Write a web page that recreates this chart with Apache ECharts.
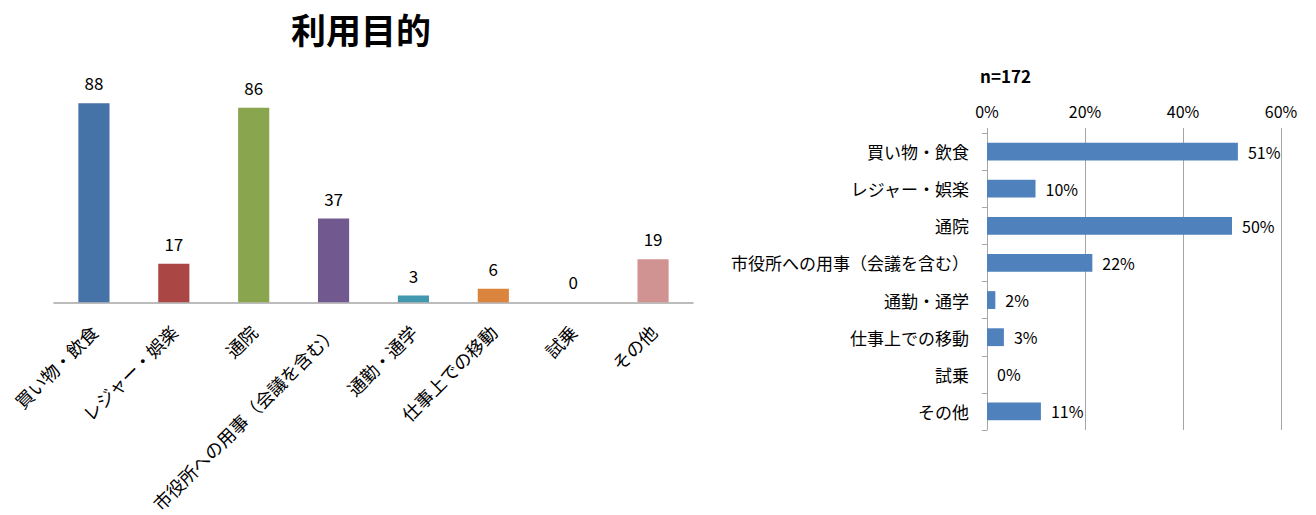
<!DOCTYPE html>
<html>
<head>
<meta charset="utf-8">
<script src="https://cdn.jsdelivr.net/npm/echarts@6/dist/echarts.min.js"></script>
<style>
  html, body { margin: 0; padding: 0; background: #fff; }
  #main { width: 1316px; height: 515px; }
</style>
</head>
<body>
<div id="main"></div>
<script>
// data
var categories = ['買い物・飲食', 'レジャー・娯楽', '通院', '市役所への用事（会議を含む）', '通勤・通学', '仕事上での移動', '試乗', 'その他'];
var counts = [88, 17, 86, 37, 3, 6, 0, 19];
var shares = [51.2, 9.9, 50.0, 21.5, 1.7, 3.45, 0, 11.0];
var barColors = ['#4572A7', '#AA4643', '#89A54E', '#71588F', '#4198AF', '#DB843D', '#93A9CF', '#D19392'];
var pctTicks = [0, 20, 40, 60];
var sampleSize = 'n=172';

var font = '"Noto Sans CJK JP", "Noto Sans", sans-serif';

var chart = echarts.init(document.getElementById('main'), null, {renderer: 'svg'});
chart.setOption({
  animation: false,
  textStyle: { fontFamily: font },
  title: [
    { text: '利用目的', left: 356, top: 6, textAlign: 'center',
      textStyle: { fontSize: 35, fontWeight: 'bold', color: '#000', fontFamily: font } },
    { text: sampleSize, left: 975, top: 62,
      textStyle: { fontSize: 17, fontWeight: 'bold', color: '#000', fontFamily: font } }
  ],
  grid: [
    { left: 54, width: 639, top: 76, height: 229 },
    { left: 987, width: 294, top: 133, height: 297 }
  ],
  xAxis: [
    { type: 'category', gridIndex: 0, data: categories,
      axisLine: { lineStyle: { color: '#a6a6a6', width: 1.5 } },
      axisTick: { show: false },
      axisLabel: { rotate: 45, margin: 26, fontSize: 18, color: '#000', interval: 0, fontFamily: font } },
    { type: 'value', gridIndex: 1, position: 'top', min: 0, max: 60, interval: 20,
      axisLine: { show: false },
      axisTick: { show: true, length: 5, lineStyle: { color: '#a6a6a6' } },
      splitLine: { show: true, lineStyle: { color: '#a6a6a6' } },
      axisLabel: { margin: 14, fontSize: 16, color: '#000', fontFamily: font,
        formatter: function (v) { return pctTicks.indexOf(v) >= 0 ? v + '%' : ''; } } }
  ],
  yAxis: [
    { type: 'value', gridIndex: 0, min: 0, max: 100, show: false, splitLine: { show: false } },
    { type: 'category', gridIndex: 1, data: categories, inverse: true,
      axisLine: { show: true, lineStyle: { color: '#a6a6a6' } },
      axisTick: { show: true, length: 5, lineStyle: { color: '#a6a6a6' } },
      axisLabel: { margin: 18, fontSize: 17, color: '#000', interval: 0, fontFamily: font } }
  ],
  series: [
    { type: 'bar', xAxisIndex: 0, yAxisIndex: 0, barWidth: '39%',
      data: counts.map(function (v, i) { return { value: v, itemStyle: { color: barColors[i] } }; }),
      label: { show: true, position: 'top', distance: 12, fontSize: 17, color: '#000', fontFamily: font } },
    { type: 'bar', xAxisIndex: 1, yAxisIndex: 1, barWidth: '48%',
      itemStyle: { color: '#4F81BD' },
      data: shares,
      label: { show: true, position: 'right', distance: 10, fontSize: 16, color: '#000', fontFamily: font,
        formatter: function (p) { return Math.round(p.value) + '%'; } } }
  ]
});
</script>
</body>
</html>
